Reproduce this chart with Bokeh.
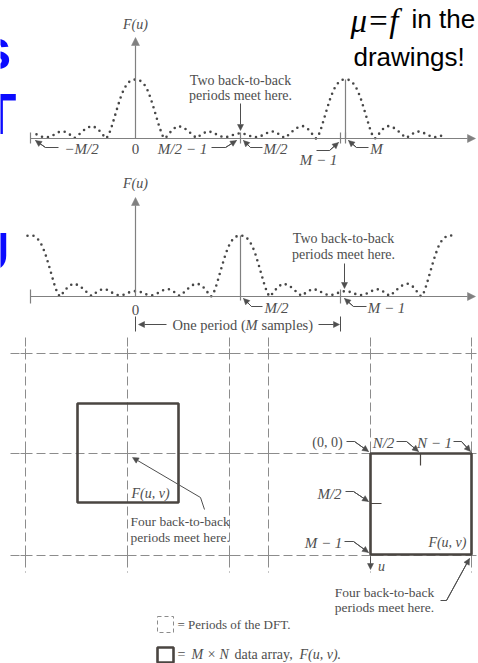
from bokeh.plotting import figure
from bokeh.layouts import column
from bokeh.models import Range1d, Label, Arrow, NormalHead
from bokeh.embed import file_html
from bokeh.resources import INLINE

# ---------------------------------------------------------------- data ----
M = 42  # samples in one period of the DFT

# one period of |F(u)|, centred on its peak (u relative to the peak)
period_u = [-21.0, -19.8, -18.7, -17.6, -16.4, -15.3, -14.3, -13.2, -12.2, -11.4,
            -10.5, -9.5, -8.5, -7.5, -6.6, -5.9, -5.4, -4.8, -4.2, -3.6, -3.0,
            -2.4, -1.8, -1.2, -0.6, 0.0, 0.6, 1.2, 1.8, 2.4, 3.0, 3.6, 4.2, 4.8,
            5.4, 5.9, 6.6, 7.5, 8.5, 9.5, 10.5, 11.4, 12.2, 13.2, 14.3, 15.3,
            16.4, 17.6, 18.7, 19.8, 21.0]
period_F = [0.09, 0.07, 0.03, 0.02, 0.06, 0.11, 0.12, 0.07, 0.01, 0.06, 0.13,
            0.19, 0.21, 0.16, 0.07, 0.0, 0.05, 0.19, 0.36, 0.53, 0.69, 0.82,
            0.91, 0.965, 0.995, 1.0, 0.995, 0.965, 0.91, 0.82, 0.69, 0.53, 0.36,
            0.19, 0.05, 0.0, 0.07, 0.16, 0.21, 0.19, 0.13, 0.06, 0.01, 0.07,
            0.12, 0.11, 0.06, 0.02, 0.03, 0.07, 0.09]

# peak positions of the periodic spectrum
top_centres = [0, M]                        # as computed
mid_centres = [M / 2 - M, M / 2, M / 2 + M]  # shifted by M/2
top_extent = (-20.4, 61.8)
mid_extent = (-21.6, 64.0)

# ------------------------------------------------------------- styling ----
W = 478
SERIF = "Liberation Serif"
SANS = "Liberation Sans"
INK = "#4e4e4e"
AXIS = "#808080"
DOTS = "#474747"
BOX = "#4a4541"
DASH = "#8c8c8c"
BLUE = "#0b0bff"
BASELINE_SHIFT = 0.32  # em offset applied to baseline-anchored labels


def tiled(centres, lo, hi):
    xs, ys = [], []
    for c in centres:
        for u, f in zip(period_u, period_F):
            x = c + u
            if lo <= x <= hi and (not xs or x > xs[-1] + 1e-9):
                xs.append(x)
                ys.append(f)
    return xs, ys


def fig(h, xr, yr):
    p = figure(width=W, height=h, x_range=xr, y_range=yr, output_backend="svg",
               toolbar_location=None, min_border=0, x_axis_location=None,
               y_axis_location=None, outline_line_color=None,
               background_fill_color="white", border_fill_color="white")
    p.grid.visible = False
    return p


def text(p, x, y, s, size=14, italic=False, bold=False, align="center",
         baseline="middle", color=INK, font=SERIF):
    style = "bold" if bold else ("italic" if italic else "normal")
    p.add_layout(Label(x=x, y=y, text=s, text_font=font,
                       text_font_size=f"{size}px", text_font_style=style,
                       text_align=align, text_baseline=baseline,
                       text_color=color))


def head(p, x0, y0, x1, y1, size=6, color=INK, width=1.0):
    p.add_layout(Arrow(x_start=x0, y_start=y0, x_end=x1, y_end=y1,
                       line_color=color, line_width=width,
                       end=NormalHead(size=size, fill_color=color,
                                      line_color=color, line_width=0.5)))


def leader(p, xs, ys, color=INK):
    p.line(xs, ys, line_color=color, line_width=1)
    head(p, xs[-2], ys[-2], xs[-1], ys[-1], color=color)


def dotted(p, xs, ys):
    p.line(xs, ys, line_color=DOTS, line_width=2.6, line_dash="0 6",
           line_cap="round")


# horizontal placement shared by both 1-D plots: 5 px per sample, u=0 at 135 px
def xu(px):
    return (px - 135) / 5


x_range_1d = (xu(0), xu(W))

# ---------------------------------------------------- top: F(u) as is ----
HA, BASE_A, SC_A = 170, 138, 59


def ya(py):
    return (BASE_A - py) / SC_A


def ya_base(py, size):
    return ya(py - BASELINE_SHIFT * size)


pa = fig(HA, Range1d(*x_range_1d), Range1d(ya(HA), ya(0)))

ua, fa = tiled(top_centres, *top_extent)
head(pa, -M / 2, 0, xu(475), 0, size=8, color=AXIS, width=1.2)
head(pa, 0, 0, 0, ya(37), size=8, color=AXIS, width=1.2)
pa.line([M, M], [0, 1.0], line_color=AXIS, line_width=1.2)
ticks_a = [-M / 2, M / 2, M - 1, M]
pa.multi_line([[t, t] for t in ticks_a], [[ya(132), ya(143)]] * len(ticks_a),
              line_color=AXIS, line_width=1.2)
dotted(pa, ua, fa)

text(pa, 0, ya(24), "F(u)", 14, italic=True)
text(pa, xu(240), ya(80), "Two back-to-back", 14)
text(pa, xu(240), ya(95), "periods meet here.", 14)
head(pa, M / 2, ya(103), M / 2, ya(130))

text(pa, xu(81), ya(148), "−M/2", 15, italic=True)
text(pa, 0, ya(148), "0", 15)
text(pa, xu(182), ya(148), "M/2 − 1", 15, italic=True)
text(pa, xu(275), ya(148), "M/2", 15, italic=True)
text(pa, xu(318), ya(159), "M − 1", 15, italic=True)
text(pa, xu(376), ya(148), "M", 15, italic=True)
leader(pa, [xu(58), xu(45), xu(35)], [ya(147), ya(147), ya(140)])
leader(pa, [xu(211), xu(225), xu(236)], [ya(147), ya(147), ya(140)])
leader(pa, [xu(262), xu(250), xu(243)], [ya(147), ya(147), ya(140)])
leader(pa, [xu(316), xu(329), xu(338)], [ya(150), ya(150), ya(142)])
leader(pa, [xu(368), xu(356), xu(348)], [ya(147), ya(147), ya(140)])

# slide text over the figure
text(pa, xu(11), ya_base(67, 58), "s", 58, bold=True, font=SANS, color=BLUE,
     align="right", baseline="alphabetic")
text(pa, xu(16), ya_base(132, 58), "T", 58, bold=True, font=SANS, color=BLUE,
     align="right", baseline="alphabetic")
text(pa, xu(350), ya_base(31, 33), "μ=f", 33, italic=True, color="black",
     align="left", baseline="alphabetic")
text(pa, xu(411), ya_base(27, 26), "in the", 26, font=SANS, color="black",
     align="left", baseline="alphabetic")
text(pa, xu(353), ya_base(65, 26), "drawings!", 26, font=SANS, color="black",
     align="left", baseline="alphabetic")

# ------------------------------------------------ middle: shifted F(u) ----
TOP_B, HB, BASE_B, SC_B = 170, 165, 296, 61


def yb(py):
    return (BASE_B - py) / SC_B


pb = fig(HB, Range1d(*x_range_1d), Range1d(yb(TOP_B + HB), yb(TOP_B)))

ub, fb = tiled(mid_centres, *mid_extent)
head(pb, -M / 2, 0, xu(475), 0, size=8, color=AXIS, width=1.2)
head(pb, 0, 0, 0, yb(197), size=8, color=AXIS, width=1.2)
pb.line([M / 2, M / 2], [yb(300), 1.0], line_color=AXIS, line_width=1.2)
ticks_b = [-M / 2, M - 1]
pb.multi_line([[t, t] for t in ticks_b], [[yb(289), yb(303)]] * len(ticks_b),
              line_color=AXIS, line_width=1.2)
dotted(pb, ub, fb)

text(pb, 0, yb(183), "F(u)", 14, italic=True)
text(pb, 0, yb(309), "0", 15)
text(pb, xu(276), yb(307), "M/2", 15, italic=True)
text(pb, xu(386), yb(307), "M − 1", 15, italic=True)
leader(pb, [xu(262), xu(251), xu(243)], [yb(306), yb(306), yb(298)])
leader(pb, [xu(366), xu(353), xu(344)], [yb(306), yb(306), yb(298)])
text(pb, xu(343), yb(238), "Two back-to-back", 14)
text(pb, xu(343), yb(254), "periods meet here.", 14)
head(pb, xu(344), yb(263), xu(344), yb(288))

# one-period bracket
pb.multi_line([[0, 0], [M - 1, M - 1]], [[yb(316), yb(331)]] * 2,
              line_color=INK, line_width=1)
head(pb, xu(166), yb(324), xu(138), yb(324))
head(pb, xu(318), yb(324), xu(339), yb(324))
text(pb, xu(172), yb(324), "One period (", 14.5, align="left")
text(pb, xu(245), yb(324), "M", 14.5, italic=True, align="left")
text(pb, xu(261), yb(324), "samples)", 14.5, align="left")

text(pb, xu(9), (yb(268 - BASELINE_SHIFT * 54)), "U", 54, bold=True,
     font=SANS, color=BLUE, align="right", baseline="alphabetic")

# ---------------------------------------------------- bottom: 2-D DFT ----
TOP_C = TOP_B + HB
HC = 663 - TOP_C
pc = fig(HC, Range1d(0, W), Range1d(663, TOP_C))

cols = [25, 127, 229, 268, 370, 471]
rows = [353, 453, 555]
pc.multi_line([[x, x] for x in cols], [[337, 572]] * len(cols),
              line_color=DASH, line_width=1, line_dash="9 4")
pc.multi_line([[10, W] for _ in rows], [[y, y] for y in rows],
              line_color=DASH, line_width=1, line_dash="9 4")
cx, cy = [], []
for x in cols:
    for y in rows:
        cx += [[x - 5, x + 5], [x, x]]
        cy += [[y, y], [y - 5, y + 5]]
pc.multi_line(cx, cy, line_color=DASH, line_width=1)

# the M x N data array, before and after centring
pc.quad(left=[77, 370], right=[178, 471], top=[403, 453], bottom=[502, 554],
        fill_color=None, line_color=BOX, line_width=2.6)
pc.multi_line([[420, 420], [370, 381]], [[453, 465], [503, 503]],
              line_color=BOX, line_width=1.2)

text(pc, 150, 493, "F(u, v)", 14, italic=True)
pc.line([204, 200], [509, 497], line_color=INK, line_width=1)
head(pc, 200, 497, 132, 457)
text(pc, 130, 521, "Four back-to-back", 13.5, align="left")
text(pc, 130, 537, "periods meet here.", 13.5, align="left")

text(pc, 327, 442, "(0, 0)", 14)
leader(pc, [346, 354, 368], [441, 441, 451])
text(pc, 383, 442, "N/2", 15, italic=True)
leader(pc, [396, 406, 418], [441, 441, 451])
text(pc, 434, 442, "N − 1", 15, italic=True)
leader(pc, [453, 461, 470], [441, 441, 451])
text(pc, 329, 493, "M/2", 15, italic=True)
leader(pc, [345, 353, 368], [491, 491, 501])
text(pc, 323, 542, "M − 1", 15, italic=True)
leader(pc, [344, 353, 368], [541, 541, 552])
text(pc, 466, 542, "F(u, v)", 14, italic=True, align="right")
head(pc, 370, 556, 370, 569)
text(pc, 381, 566, "u", 14, italic=True)
text(pc, 384, 592, "Four back-to-back", 13.5)
text(pc, 384, 607, "periods meet here.", 13.5)
leader(pc, [440, 446, 469], [600, 600, 558])

# key
pc.quad(left=[157], right=[173], top=[616], bottom=[632], fill_color=None,
        line_color=DASH, line_width=1, line_dash="4 3")
pc.quad(left=[157], right=[173], top=[647], bottom=[662], fill_color=None,
        line_color=BOX, line_width=2.6)
text(pc, 177, 624, "= Periods of the DFT.", 13, align="left")
text(pc, 177, 654, "=", 14, align="left")
text(pc, 191, 654, "M × N", 14, italic=True, align="left")
text(pc, 234, 654, "data array,", 14, align="left")
text(pc, 299, 654, "F(u, v).", 14, italic=True, align="left")

layout = column(pa, pb, pc, spacing=0)
open("out.html", "w").write(file_html(layout, INLINE))
